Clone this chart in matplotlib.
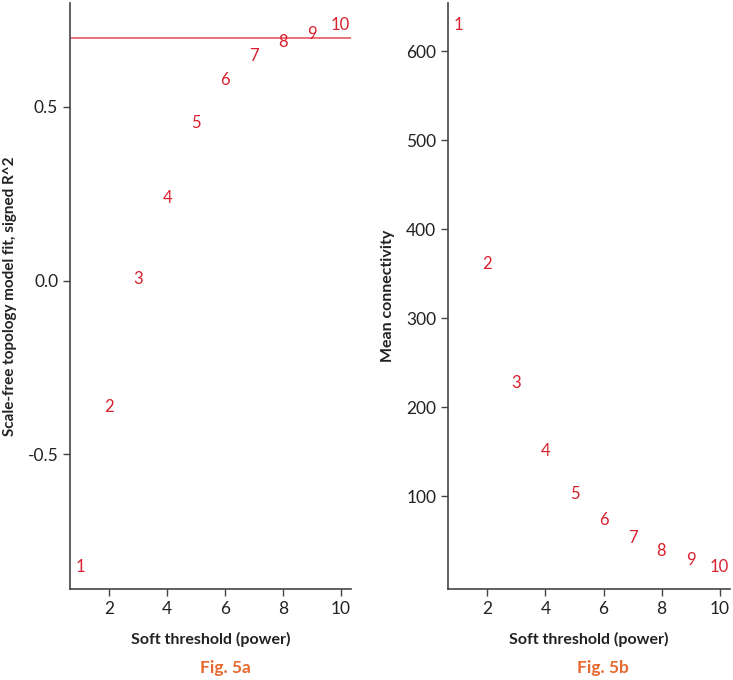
import matplotlib
matplotlib.use("Agg")
import matplotlib.pyplot as plt

powers = [1, 2, 3, 4, 5, 6, 7, 8, 9, 10]
signed_r2 = [-0.826, -0.365, 0.004, 0.239, 0.454, 0.577, 0.646, 0.686, 0.710, 0.737]
mean_conn = [629.7, 361.5, 227.8, 150.4, 102.9, 73.3, 53.3, 38.8, 28.0, 20.3]
r2_cutoff = 0.70
x_ticks = [2, 4, 6, 8, 10]
left_yticks = [-0.5, 0.0, 0.5]
right_yticks = [100, 200, 300, 400, 500, 600]

plt.rcParams['font.family'] = ['Lato', 'DejaVu Sans']
red = "#d8202e"
axis_grey = "#444444"

fig = plt.figure(figsize=(7.33, 6.8), dpi=100)
ax1 = fig.add_axes([70/733, 91/680, 281/733, 586/680])
ax2 = fig.add_axes([448/733, 91/680, 282/733, 586/680])

def style(ax):
    for s in ["top", "right"]:
        ax.spines[s].set_visible(False)
    for s in ["left", "bottom"]:
        ax.spines[s].set_color(axis_grey)
        ax.spines[s].set_linewidth(1.2)
    ax.tick_params(colors=axis_grey, labelcolor="#222222", labelsize=12.5,
                   length=5, width=1.0)
    ax.set_xticks(x_ticks)
    ax.set_xlabel("Soft threshold (power)", fontsize=11.5, fontweight="bold",
                  color="#222222")
    ax.xaxis.set_label_coords(0.5, -43/586)
    ax.yaxis.set_label_coords(-0.213, 0.5)

# panel a
for p, v in zip(powers, signed_r2):
    ax1.text(p, v, str(p), color=red, fontsize=12, ha="center", va="center")
ax1.axhline(r2_cutoff, color="#e85a62", linewidth=1.2)
pad = 0.04 * (max(signed_r2) - min(signed_r2))
ax1.set_ylim(min(signed_r2) - pad, max(signed_r2) + pad)
ax1.set_xlim(1 - 0.36, 10 + 0.36)
ax1.set_yticks(left_yticks)
ax1.set_yticklabels(["-0.5", "0.0", "0.5"])
ax1.set_ylabel("Scale-free topology model fit, signed R^2", fontsize=11,
               fontweight="bold", color="#222222", va="center")
style(ax1)

# panel b
for p, v in zip(powers, mean_conn):
    ax2.text(p, v, str(p), color=red, fontsize=12, ha="center", va="center")
pad = 0.04 * (max(mean_conn) - min(mean_conn))
ax2.set_ylim(min(mean_conn) - pad, max(mean_conn) + pad)
ax2.set_xlim(1 - 0.36, 10 + 0.36)
ax2.set_yticks(right_yticks)
ax2.set_ylabel("Mean connectivity", fontsize=11.5, fontweight="bold",
               color="#222222", va="center")
style(ax2)

fig.text(225/733, 1 - 668/680, "Fig. 5a", color="#e8692f", fontsize=12.5,
         fontweight="bold", ha="center", va="center")
fig.text(603/733, 1 - 668/680, "Fig. 5b", color="#e8692f", fontsize=12.5,
         fontweight="bold", ha="center", va="center")

fig.savefig("out.png", dpi=100)
